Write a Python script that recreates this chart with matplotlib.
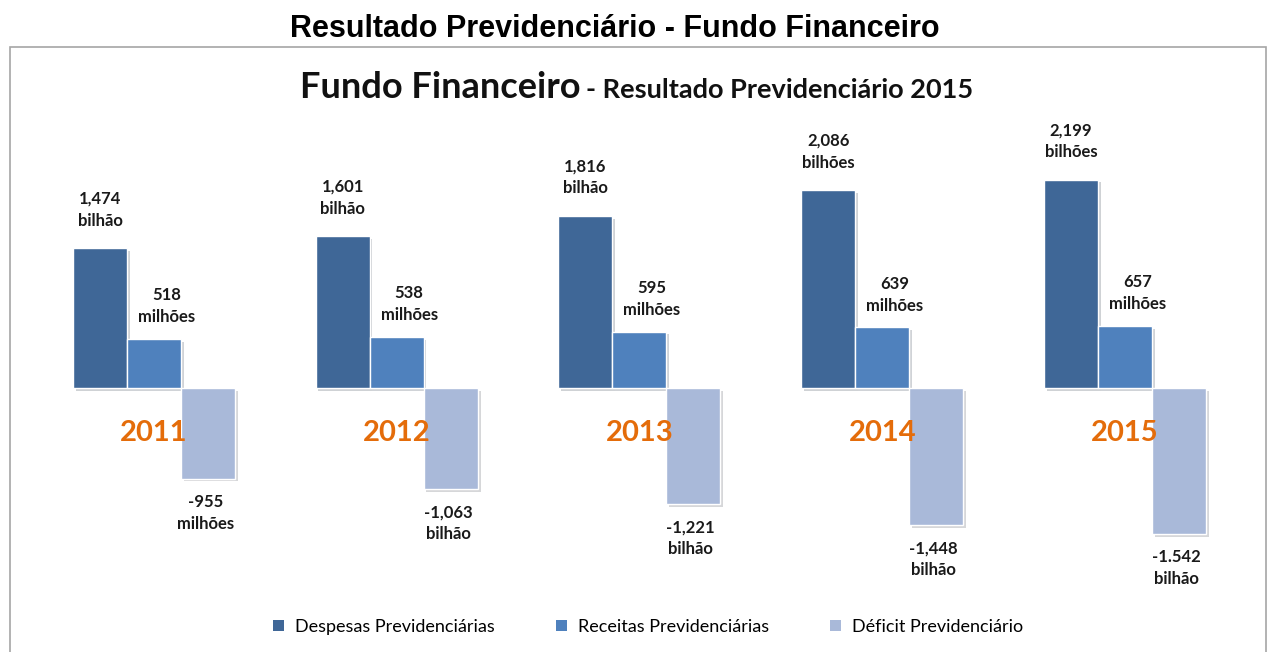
"""Resultado previdenciário do Fundo Financeiro, 2011-2015."""

import matplotlib

matplotlib.use("Agg")
import matplotlib.pyplot as plt
import matplotlib.patheffects as pe
from matplotlib.patches import Rectangle

years = ["2011", "2012", "2013", "2014", "2015"]
despesas = [1474, 1601, 1816, 2086, 2199]
receitas = [518, 538, 595, 639, 657]
deficit = [-955, -1063, -1221, -1448, -1542]
despesas_labels = ["1,474\nbilhão", "1,601\nbilhão", "1,816\nbilhão",
                   "2,086\nbilhões", "2,199\nbilhões"]
receitas_labels = ["518\nmilhões", "538\nmilhões", "595\nmilhões",
                   "639\nmilhões", "657\nmilhões"]
deficit_labels = ["-955\nmilhões", "-1,063\nbilhão", "-1,221\nbilhão",
                  "-1,448\nbilhão", "-1.542\nbilhão"]
series_names = ["Despesas Previdenciárias", "Receitas Previdenciárias",
                "Déficit Previdenciário"]

COLORS = ["#3F6797", "#4F81BD", "#A9B9D9"]
ORANGE = "#E46C0A"
FONT = "Lato"
W, H = 1269, 652


def main():
    fig = plt.figure(figsize=(W / 100, H / 100), dpi=100)

    # outer title and frame
    fig.text(615 / W, 1 - 29 / H, "Resultado Previdenciário - Fundo Financeiro",
             ha="center", va="center", fontsize=22, fontweight="bold",
             family="Liberation Sans")
    fig.patches.append(Rectangle((10 / W, -0.1), 1256 / W, 1.1 - 47 / H,
                                 transform=fig.transFigure, fill=False,
                                 edgecolor="#A6A6A6", linewidth=1.2))

    # inner title, two sizes on one baseline
    fig.text(580 / W, 1 - 98 / H, "Fundo Financeiro", ha="right", va="baseline",
             fontsize=26, fontweight="bold", family=FONT, color="#111111")
    fig.text(586 / W, 1 - 98 / H, "- Resultado Previdenciário 2015", ha="left",
             va="baseline", fontsize=19.5, fontweight="bold", family=FONT,
             color="#111111")

    ax = fig.add_axes([10 / W, 52 / H, 1256 / W, 500 / H])
    ax.set_xlim(-0.593, 4.581)
    ax.set_ylim(-2236, 3038)
    ax.axis("off")

    width = 0.2225
    x = list(range(len(years)))
    shadow = [pe.SimplePatchShadow(offset=(2, -2), alpha=0.2), pe.Normal()]
    series = [despesas, receitas, deficit]
    for i, (vals, color) in enumerate(zip(series, COLORS)):
        pos = [xi + (i - 1) * width for xi in x]
        bars = ax.bar(pos, vals, width=width, color=color, edgecolor="white",
                      linewidth=1, zorder=2)
        for b in bars:
            b.set_path_effects(shadow)

    label_kw = dict(ha="center", fontsize=12, fontweight="bold", family=FONT,
                    color="#1a1a1a", linespacing=1.45, textcoords="offset points")
    for xi, v, t in zip(x, despesas, despesas_labels):
        ax.annotate(t, (xi - width, v), xytext=(0, 14), va="bottom", **label_kw)
    for xi, v, t in zip(x, receitas, receitas_labels):
        ax.annotate(t, (xi, v), xytext=(9, 10), va="bottom", **label_kw)
    for xi, v, t in zip(x, deficit, deficit_labels):
        ax.annotate(t, (xi + width, v), xytext=(-2, -11), va="top", **label_kw)

    for xi, year in zip(x, years):
        ax.text(xi, -470, year, ha="center", va="center", fontsize=21,
                fontweight="bold", family=FONT, color=ORANGE, zorder=5)

    handles = [Rectangle((0, 0), 1, 1, facecolor=c) for c in COLORS]
    fig.legend(handles, series_names, loc="center", ncol=3,
               bbox_to_anchor=(648 / W, 1 - 627 / H), frameon=False,
               handlelength=0.6, handleheight=0.6, handletextpad=0.6,
               columnspacing=3.4, prop={"family": FONT, "size": 13})

    fig.savefig("out.png", dpi=100)
    plt.close(fig)


if __name__ == "__main__":
    main()
